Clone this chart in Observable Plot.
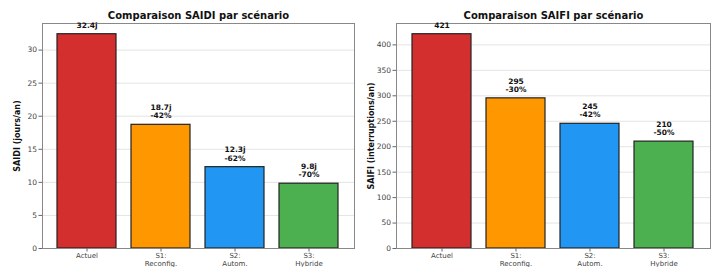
<!DOCTYPE html>
<html>
<head>
<meta charset="utf-8">
<script src="https://cdn.jsdelivr.net/npm/d3@7"></script>
<script src="https://cdn.jsdelivr.net/npm/@observablehq/plot@0.6"></script>
<style>
  html, body { margin: 0; padding: 0; background: #fff; }
  #wrap { display: flex; width: 714px; height: 267px; overflow: hidden; }
  svg { font-family: "DejaVu Sans", sans-serif; }
</style>
</head>
<body>
<div id="wrap"></div>
<script>
const scenarios = ["Actuel", "S1: Reconfig.", "S2: Autom.", "S3: Hybride"];
const tickLabels = ["Actuel", "S1:\nReconfig.", "S2:\nAutom.", "S3:\nHybride"];
const saidi = [32.4, 18.7, 12.3, 9.8];
const saifi = [421, 295, 245, 210];
const saidiLabels = ["32.4j", "18.7j\n-42%", "12.3j\n-62%", "9.8j\n-70%"];
const saifiLabels = ["421", "295\n-30%", "245\n-42%", "210\n-50%"];
const colors = ["#d32f2f", "#ff9800", "#2196f3", "#4caf50"];

function panel(values, labels, title, ylabel, ticks, marginLeft, marginRight) {
  const data = scenarios.map((s, i) => ({s, v: values[i], lab: labels[i], c: colors[i], t: tickLabels[i]}));
  const tickMap = new Map(data.map(d => [d.s, d.t]));
  return Plot.plot({
    width: 357,
    height: 267,
    marginTop: 23,
    marginBottom: 19,
    marginLeft,
    marginRight,
    style: {fontFamily: "DejaVu Sans, sans-serif", background: "#fff", overflow: "visible"},
    x: {type: "band", domain: scenarios, paddingInner: 0.2, paddingOuter: 0.2},
    y: {domain: [0, d3.max(values) * 1.05]},
    color: {type: "identity"},
    marks: [
      Plot.gridY(ticks, {stroke: "#ddd", strokeOpacity: 1, strokeWidth: 0.8}),
      Plot.barY(data, {x: "s", y: "v", fill: "c", stroke: "#222", strokeWidth: 1.2}),
      Plot.frame({stroke: "#888", strokeWidth: 1}),
      Plot.axisY(ticks, {tickSize: 3.5, tickPadding: 2, fontSize: 7.5, fill: "#444", stroke: "#666", label: null}),
      Plot.axisX({tickSize: 3.5, tickPadding: 0.5, fontSize: 7, fill: "#444", stroke: "#666", label: null, lineHeight: 1.12, tickFormat: d => tickMap.get(d)}),
      Plot.text(data, {x: "s", y: "v", text: "lab", dy: -6.5, lineAnchor: "bottom", fontWeight: "bold", fontSize: 7.5, fill: "#111", lineHeight: 1.1}),
      Plot.text([title], {frameAnchor: "top", dy: -8, lineAnchor: "middle", textAnchor: "middle", fontWeight: "bold", fontSize: 10, fill: "#111"}),
      Plot.text([ylabel], {frameAnchor: "left", rotate: -90, dx: -25, textAnchor: "middle", lineAnchor: "middle", fontWeight: "bold", fontSize: 8, fill: "#111"})
    ]
  });
}

const wrap = document.getElementById("wrap");
wrap.append(panel(saidi, saidiLabels, "Comparaison SAIDI par scénario", "SAIDI (jours/an)", [0, 5, 10, 15, 20, 25, 30], 42, 3));
wrap.append(panel(saifi, saifiLabels, "Comparaison SAIFI par scénario", "SAIFI (interruptions/an)", [0, 50, 100, 150, 200, 250, 300, 350, 400], 39, 4));
</script>
</body>
</html>
